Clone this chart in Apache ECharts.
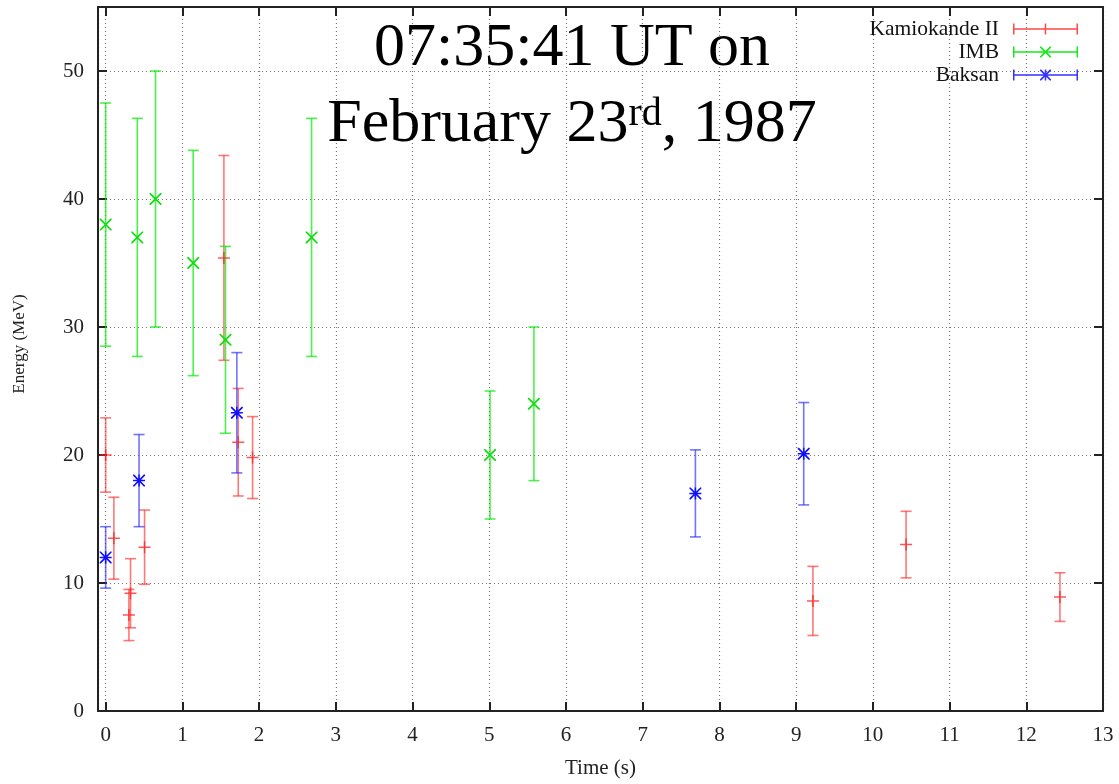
<!DOCTYPE html>
<html>
<head>
<meta charset="utf-8">
<script src="https://cdn.jsdelivr.net/npm/echarts@6/dist/echarts.min.js"></script>
<style>
  html, body { margin: 0; padding: 0; background: #fff; }
  #chart { width: 1119px; height: 784px; }
</style>
</head>
<body>
<div id="chart"></div>
<script>
// SN1987A neutrino events: time (s), energy (MeV), energy error (MeV)
const kamTime = [0, 0.107, 0.303, 0.324, 0.507, 1.541, 1.728, 1.915, 9.219, 10.433, 12.439];
const kamEnergy = [20.0, 13.5, 7.5, 9.2, 12.8, 35.4, 21.0, 19.8, 8.6, 13.0, 8.9];
const kamError = [2.9, 3.2, 2.0, 2.7, 2.9, 8.0, 4.2, 3.2, 2.7, 2.6, 1.9];

const imbTime = [0, 0.412, 0.650, 1.141, 1.562, 2.684, 5.010, 5.582];
const imbEnergy = [38, 37, 40, 35, 29, 37, 20, 24];
const imbError = [9.5, 9.3, 10, 8.8, 7.3, 9.3, 5, 6];

const bakTime = [0, 0.435, 1.710, 7.687, 9.099];
const bakEnergy = [12.0, 18.0, 23.3, 17.0, 20.1];
const bakError = [2.4, 3.6, 4.7, 3.4, 4.0];

const yTicks = [0, 10, 20, 30, 40, 50];

const serif = 'Liberation Serif';

// marker shapes (filled thin strokes)
const plusPath = 'path://M0,5.25 L12,5.25 L12,6.75 L0,6.75 Z M5.25,0 L6.75,0 L6.75,12 L5.25,12 Z';
const crossPath = 'path://M0,0 L1.2,0 L12,10.8 L12,12 L10.8,12 L0,1.2 Z M10.8,0 L12,0 L12,1.2 L1.2,12 L0,12 L0,10.8 Z';
const starPath = 'path://M0,0 L1.2,0 L12,10.8 L12,12 L10.8,12 L0,1.2 Z M10.8,0 L12,0 L12,1.2 L1.2,12 L0,12 L0,10.8 Z M0,5.25 L12,5.25 L12,6.75 L0,6.75 Z M5.25,0 L6.75,0 L6.75,12 L5.25,12 Z';

// legend samples: errorbar line with caps + marker
const barBase = 'M0,5.25 L65,5.25 L65,6.75 L0,6.75 Z M0,0.5 L1.5,0.5 L1.5,11.5 L0,11.5 Z M63.5,0.5 L65,0.5 L65,11.5 L63.5,11.5 Z ';
const legPlus = 'path://' + barBase + 'M31.75,0.5 L33.25,0.5 L33.25,11.5 L31.75,11.5 Z';
const legCross = 'path://' + barBase + 'M27,0.5 L28.2,0.5 L38,10.3 L38,11.5 L36.8,11.5 L27,1.7 Z M36.8,0.5 L38,0.5 L38,1.7 L28.2,11.5 L27,11.5 L27,10.3 Z';
const legStar = 'path://' + barBase + 'M27,0.5 L28.2,0.5 L38,10.3 L38,11.5 L36.8,11.5 L27,1.7 Z M36.8,0.5 L38,0.5 L38,1.7 L28.2,11.5 L27,11.5 L27,10.3 Z M31.75,0.5 L33.25,0.5 L33.25,11.5 L31.75,11.5 Z';

const toErr = (t, e, d) => t.map((x, i) => [x, e[i] - d[i], e[i] + d[i]]);
const toPts = (t, e) => t.map((x, i) => [x, e[i]]);

const renderErr = (params, api) => {
  const x = api.value(0);
  const lo = api.coord([x, api.value(1)]);
  const hi = api.coord([x, api.value(2)]);
  const hw = 5.5;
  const style = { stroke: api.visual('color'), lineWidth: 1.6 };
  return {
    type: 'group',
    children: [
      { type: 'line', shape: { x1: lo[0], y1: lo[1], x2: hi[0], y2: hi[1] }, style: style },
      { type: 'line', shape: { x1: lo[0] - hw, y1: lo[1], x2: lo[0] + hw, y2: lo[1] }, style: style },
      { type: 'line', shape: { x1: hi[0] - hw, y1: hi[1], x2: hi[0] + hw, y2: hi[1] }, style: style }
    ]
  };
};

const errSeries = (name, data, color) => ({
  name: name,
  type: 'custom',
  renderItem: renderErr,
  itemStyle: { color: color },
  encode: { x: 0, y: [1, 2] },
  data: data,
  z: 2
});

const ptSeries = (name, data, color, symbol) => ({
  name: name,
  type: 'scatter',
  symbol: symbol,
  symbolSize: 12,
  itemStyle: { color: color, opacity: 1 },
  data: data,
  z: 3
});

const chart = echarts.init(document.getElementById('chart'));

const dotted = { show: true, lineStyle: { color: '#777', type: [1, 3], width: 1.2 } };
const frameLine = { show: true, onZero: false, lineStyle: { color: '#222', width: 2 } };
const tickIn = { show: true, inside: true, length: 9, lineStyle: { color: '#222', width: 2 } };

let option = {
  animation: false,
  backgroundColor: '#fff',
  grid: { left: 98, right: 16, top: 7, bottom: 69 },
  legend: {
    orient: 'vertical',
    right: 36,
    top: 13,
    align: 'right',
    itemWidth: 65,
    itemHeight: 12,
    itemGap: 1,
    textStyle: { fontFamily: serif, fontSize: 21.5, lineHeight: 21, color: '#111', padding: [0, 9, 0, 0] },
    data: [
      { name: 'Kamiokande II', icon: legPlus, itemStyle: { color: 'rgba(255,40,40,0.85)' } },
      { name: 'IMB', icon: legCross, itemStyle: { color: 'rgba(0,230,0,0.9)' } },
      { name: 'Baksan', icon: legStar, itemStyle: { color: 'rgba(30,30,255,0.9)' } }
    ]
  },
  graphic: [{
    type: 'text',
    x: 572,
    y: 11,
    z: 10,
    style: {
      text: '{a|07:35:41 UT on}\n{a|February 23}{s|rd}{a|, 1987}',
      textAlign: 'center',
      textVerticalAlign: 'top',
      fill: '#000',
      rich: {
        a: { fontFamily: serif, fontSize: 62, lineHeight: 76, fill: '#000' },
        s: { fontFamily: serif, fontSize: 40, height: 54, verticalAlign: 'top', fill: '#000' }
      }
    }
  }],
  xAxis: [{
    type: 'value',
    min: -0.1,
    max: 13,
    splitNumber: 13,
    name: 'Time (s)',
    nameLocation: 'middle',
    nameGap: 47,
    nameTextStyle: { fontFamily: serif, fontSize: 21, color: '#222' },
    axisLine: frameLine,
    axisTick: tickIn,
    splitLine: dotted,
    axisLabel: {
      margin: 14,
      fontFamily: serif,
      fontSize: 21,
      color: '#222',
      formatter: (v) => (Math.abs(v - Math.round(v)) < 1e-6 ? String(Math.round(v)) : '')
    }
  }, {
    type: 'value',
    position: 'top',
    min: -0.1,
    max: 13,
    splitNumber: 13,
    axisLine: frameLine,
    axisTick: tickIn,
    axisLabel: { show: false },
    splitLine: { show: false }
  }],
  yAxis: [{
    type: 'value',
    min: 0,
    max: 55,
    interval: 10,
    name: 'Energy (MeV)',
    nameLocation: 'middle',
    nameGap: 70,
    nameTextStyle: { fontFamily: serif, fontSize: 17, color: '#222', padding: [0, 0, 0, 30] },
    axisLine: frameLine,
    axisTick: tickIn,
    splitLine: dotted,
    axisLabel: {
      margin: 14,
      fontFamily: serif,
      fontSize: 21,
      color: '#222',
      formatter: (v) => (yTicks.indexOf(v) >= 0 ? String(v) : '')
    }
  }, {
    type: 'value',
    position: 'right',
    min: 0,
    max: 55,
    interval: 10,
    axisLine: frameLine,
    axisTick: tickIn,
    axisLabel: { show: false },
    splitLine: { show: false }
  }],
  series: [
    errSeries('Kamiokande II', toErr(kamTime, kamEnergy, kamError), 'rgba(255,30,30,0.6)'),
    errSeries('IMB', toErr(imbTime, imbEnergy, imbError), 'rgba(0,235,0,0.7)'),
    errSeries('Baksan', toErr(bakTime, bakEnergy, bakError), 'rgba(40,40,255,0.65)'),
    ptSeries('Kamiokande II', toPts(kamTime, kamEnergy), 'rgba(255,30,30,0.75)', plusPath),
    ptSeries('IMB', toPts(imbTime, imbEnergy), '#10dd10', crossPath),
    ptSeries('Baksan', toPts(bakTime, bakEnergy), '#1010ff', starPath)
  ]
};

chart.setOption(option);
</script>
</body>
</html>
